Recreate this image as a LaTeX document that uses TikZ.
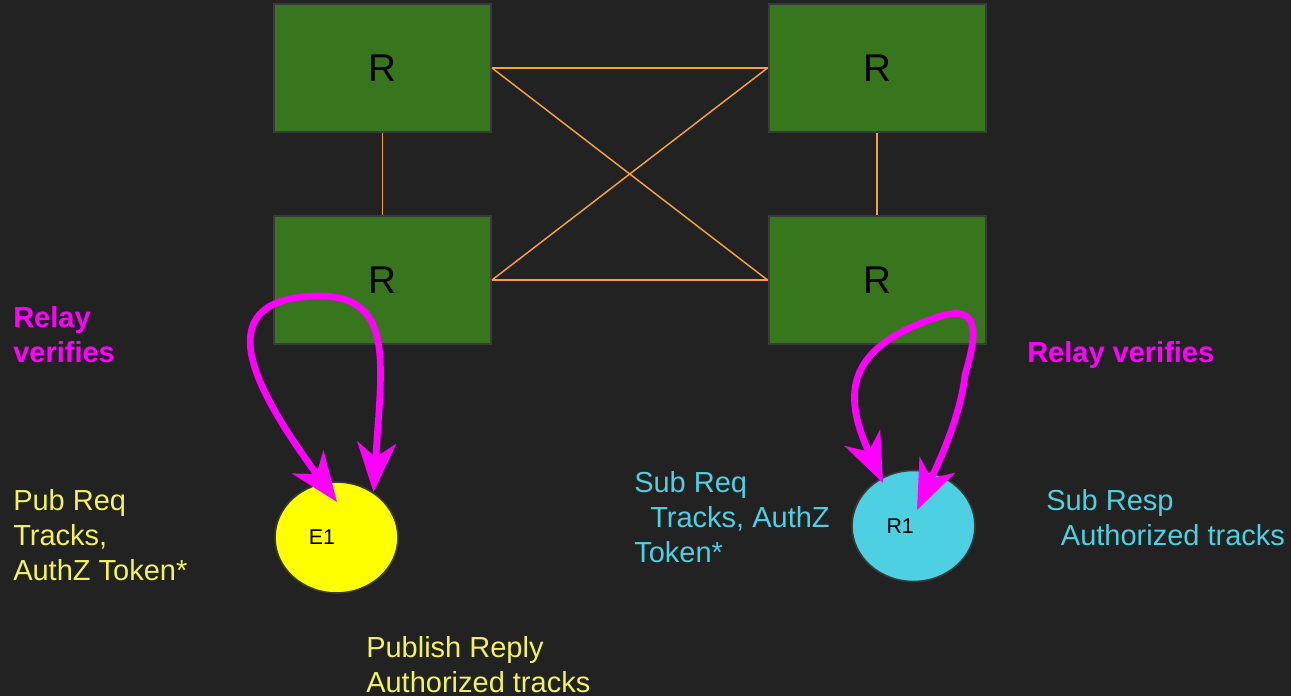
\documentclass[tikz,border=0pt]{standalone}
\usepackage{fontspec}
\setmainfont{Liberation Sans}
\usetikzlibrary{arrows.meta,shapes.geometric,calc}

\definecolor{bgdark}{HTML}{222222}
\definecolor{relaygreen}{HTML}{38761D}
\definecolor{rimgray}{HTML}{3A3A3A}
\definecolor{linkorange}{HTML}{F6A23C}
\definecolor{loopmag}{HTML}{FF00FF}
\definecolor{pubfill}{HTML}{FFFF00}
\definecolor{pubtext}{HTML}{F2F25C}
\definecolor{subcyan}{HTML}{4DD0E1}

\begin{document}
\begin{tikzpicture}[x=0.75pt,y=-0.75pt,
  relay/.style={draw=rimgray, line width=1.5pt, fill=relaygreen, inner sep=0pt,
    minimum width=162.75pt, minimum height=96pt, font=\fontsize{29}{34}\selectfont},
  link/.style={draw=linkorange, line width=1.1pt},
  client/.style={ellipse, draw=rimgray, line width=1.2pt, inner sep=0pt,
    minimum width=92.25pt, minimum height=83.25pt, font=\fontsize{16}{19}\selectfont},
  verify/.style={draw=loopmag, line width=5pt,
    {Stealth[length=37pt, width=29pt, inset=11pt]}-{Stealth[length=37pt, width=29pt, inset=11pt]}},
  note/.style={anchor=base west, align=left, inner sep=0pt,
    font=\fontsize{21.75}{26.25}\selectfont},
  boldnote/.style={note, font=\fontsize{21.75}{26.25}\selectfont\bfseries}
]
% canvas
\fill[bgdark] (0,0) rectangle (1291,696);
\useasboundingbox (0,0) rectangle (1291,696);

% relays
\node[relay] (rtl) at (382.5,68) {R};
\node[relay] (rtr) at (877,68) {R};
\node[relay] (rbl) at (382.5,280) {R};
\node[relay] (rbr) at (877,280) {R};

% relay mesh
\draw[link] (rtl.east) -- (rtr.west);
\draw[link] (rbl.east) -- (rbr.west);
\draw[link] (rtl.east) -- (rbr.west);
\draw[link] (rbl.east) -- (rtr.west);
\draw[link] (rtl.south) -- (rbl.north);
\draw[link] (rtr.south) -- (rbr.north);

% endpoints
\node[client, fill=pubfill] (e1) at (336.5,537.5) {E1\hspace*{22pt}};
\node[client, fill=subcyan] (r1) at (913.5,526) {R1\hspace*{20pt}};

% verification loops
\draw[verify] ($(e1.center)+(0.5,-35.5)$)
  .. controls (255,390) and (205,300) .. (315,296)
  .. controls (395,294) and (382,360) .. ($(e1.center)+(37,-45.5)$);
\draw[verify] ($(r1.center)+(-30.5,-43)$)
  .. controls (845,400) and (840,350) .. (935,318)
  .. controls (985,300) and (975,340) .. (965,375)
  .. controls (960,420) and (935,470) .. ($(r1.center)+(3.5,-16)$);

% captions (anchored at the baseline of their last line)
\node[boldnote, text=loopmag] (relayl) at (13,362) {Relay\\verifies};
\node[boldnote, text=loopmag] (relayr) at (1027,362) {Relay verifies};
\node[note, text=pubtext] (pubreq) at (13,580) {Pub Req\\Tracks,\\AuthZ Token*};
\node[note, text=pubtext] (pubrep) at (366,692) {Publish Reply\\Authorized tracks};
\node[note, text=subcyan] (subreq) at (634,562) {Sub Req\\\hspace*{12pt}Tracks, AuthZ\\Token*};
\node[note, text=subcyan] (subresp) at (1046,545) {Sub Resp\\\hspace*{11pt}Authorized tracks};
\end{tikzpicture}
\end{document}
